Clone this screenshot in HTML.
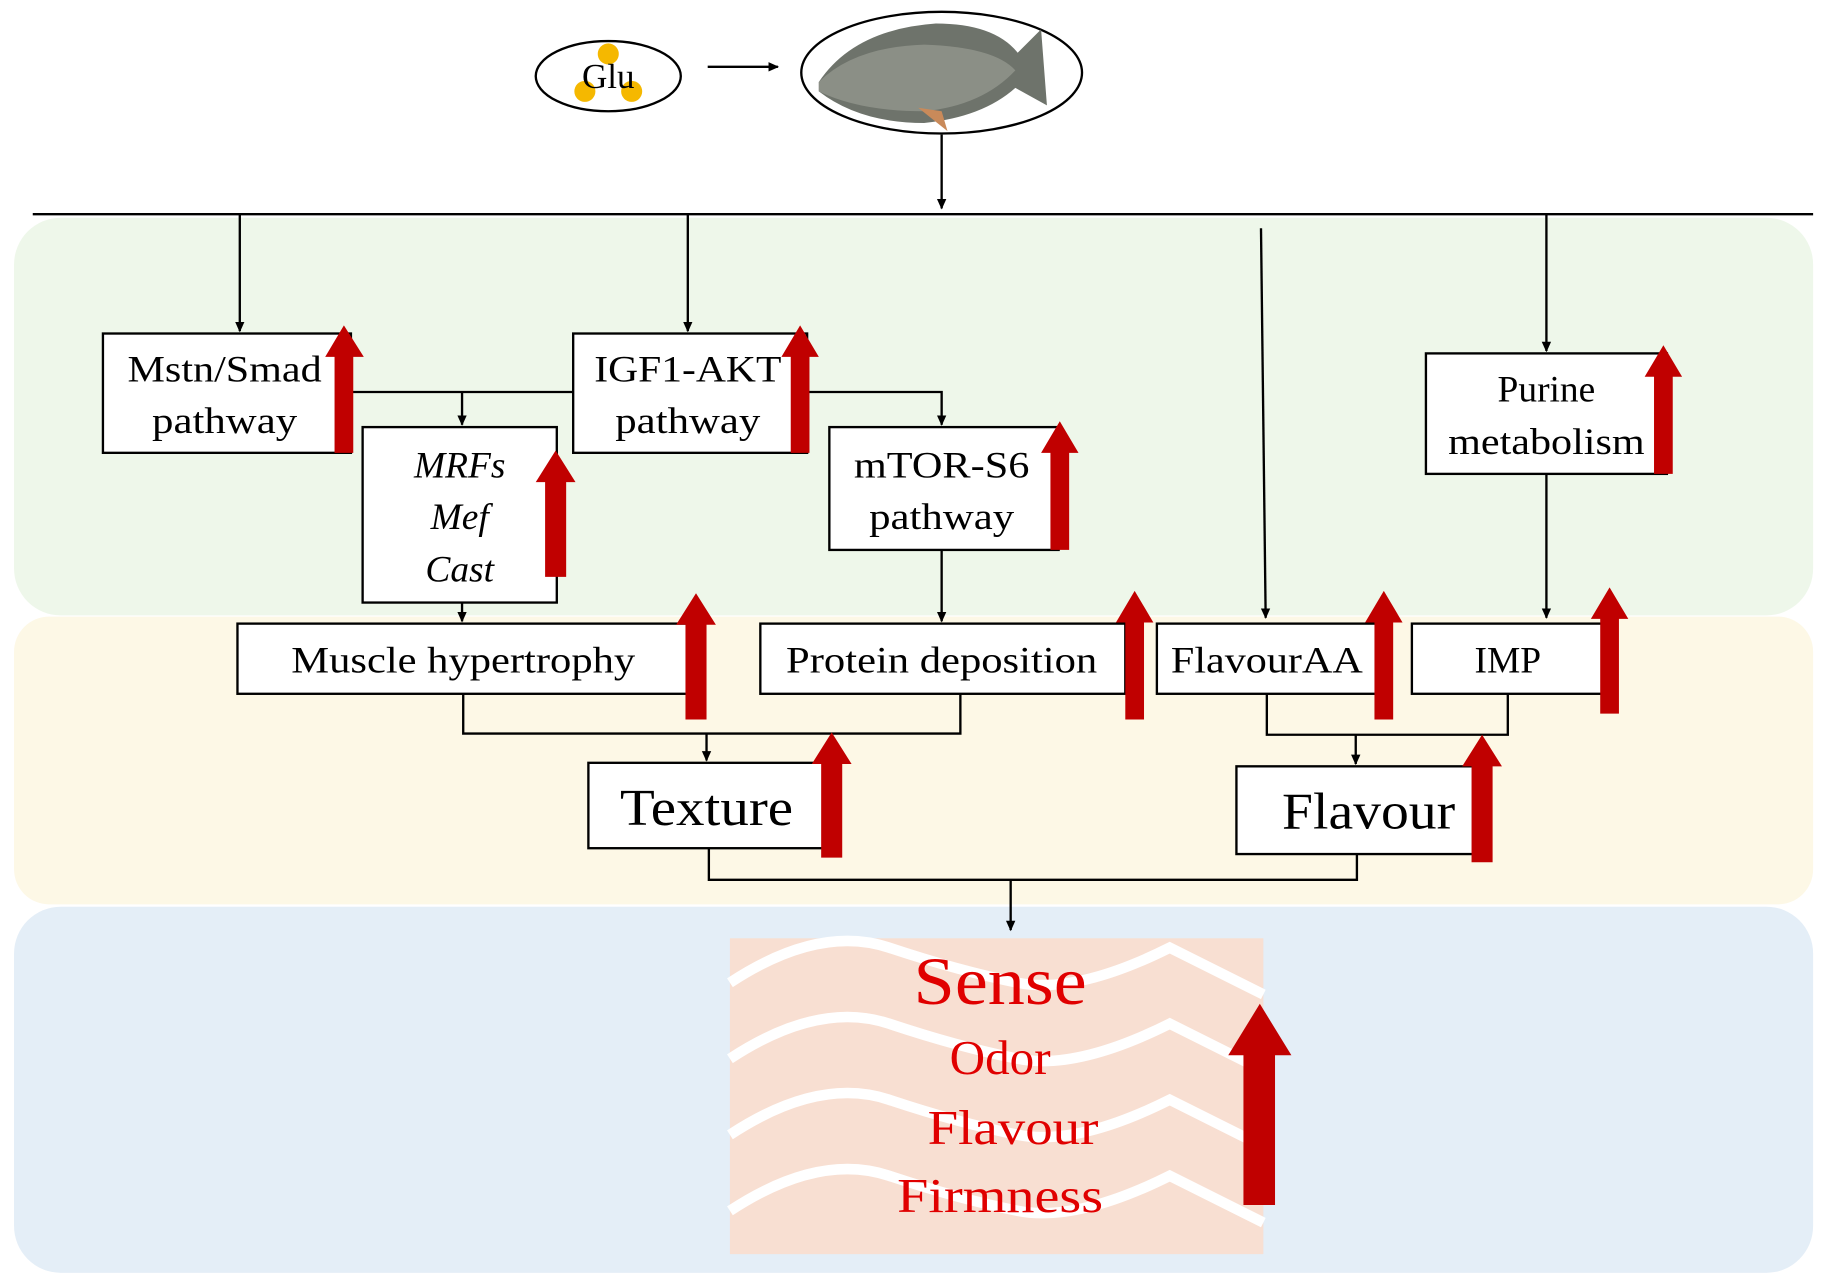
<!DOCTYPE html>
<html><head><meta charset="utf-8"><style>html,body{margin:0;padding:0;background:#fff}svg{display:block}</style></head><body>
<svg width="1833" height="1287" viewBox="0 0 1567 1100" xmlns="http://www.w3.org/2000/svg" font-family="Liberation Serif, serif">
<defs>
<marker id="a" markerWidth="10" markerHeight="10" refX="8" refY="5" orient="auto" markerUnits="userSpaceOnUse"><path d="M0,1 L9,5 L0,9 z" fill="#000"/></marker>
</defs>
<rect x="12" y="186" width="1538" height="340" rx="40" fill="#eef7ea"/>
<rect x="12" y="527" width="1538" height="246" rx="30" fill="#fdf8e6"/>
<rect x="12" y="775" width="1538" height="313" rx="40" fill="#e4eef7"/>
<ellipse cx="520" cy="65" rx="62" ry="30" fill="#fff" stroke="#000" stroke-width="2"/>
<circle cx="520" cy="46" r="9" fill="#f5b800"/><circle cx="500" cy="78" r="9" fill="#f5b800"/><circle cx="540" cy="78" r="9" fill="#f5b800"/>
<text x="520" y="75" font-size="30" text-anchor="middle">Glu</text>
<line x1="605" y1="57" x2="665" y2="57" stroke="#000" stroke-width="2" marker-end="url(#a)"/>
<ellipse cx="805" cy="62" rx="120" ry="52" fill="#fff" stroke="#000" stroke-width="2"/>
<path d="M700,70 Q730,25 800,20 Q850,20 870,45 L890,25 L895,90 L868,75 Q840,100 790,105 Q735,105 700,78 z" fill="#6e736b"/>
<path d="M700,70 Q730,40 790,38 Q850,40 868,60 Q840,90 790,95 Q735,95 700,78 z" fill="#8b8f86"/>
<path d="M785,92 L810,112 L805,95 z" fill="#c98a5a"/>
<line x1="805" y1="115" x2="805" y2="178" stroke="#000" stroke-width="2" marker-end="url(#a)"/>
<line x1="28" y1="183" x2="1550" y2="183" stroke="#000" stroke-width="2"/>
<g stroke="#000" stroke-width="2" fill="none">
<line x1="205" y1="183" x2="205" y2="283" marker-end="url(#a)"/>
<line x1="588" y1="183" x2="588" y2="283" marker-end="url(#a)"/>
<line x1="1322" y1="183" x2="1322" y2="300" marker-end="url(#a)"/>
<line x1="1078" y1="195" x2="1082" y2="528" marker-end="url(#a)"/>
<polyline points="300,335 490,335"/>
<line x1="395" y1="335" x2="395" y2="363" marker-end="url(#a)"/>
<polyline points="690,335 805,335 805,363" marker-end="url(#a)"/>
<line x1="805" y1="470" x2="805" y2="531" marker-end="url(#a)"/>
<line x1="395" y1="515" x2="395" y2="531" marker-end="url(#a)"/>
<line x1="1322" y1="405" x2="1322" y2="528" marker-end="url(#a)"/>
<polyline points="396,593 396,627 821,627 821,593"/>
<line x1="604" y1="627" x2="604" y2="650" marker-end="url(#a)"/>
<polyline points="1083,593 1083,628 1289,628 1289,593"/>
<line x1="1159" y1="628" x2="1159" y2="653" marker-end="url(#a)"/>
<polyline points="606,725 606,752 1160,752 1160,730"/>
<line x1="864" y1="752" x2="864" y2="795" marker-end="url(#a)"/>
</g>
<g fill="#fff" stroke="#000" stroke-width="2">
<rect x="88" y="285" width="212" height="102"/>
<rect x="490" y="285" width="200" height="102"/>
<rect x="310" y="365" width="166" height="150"/>
<rect x="709" y="365" width="196" height="105"/>
<rect x="1219" y="302" width="206" height="103"/>
<rect x="203" y="533" width="387" height="60"/>
<rect x="650" y="533" width="312" height="60"/>
<rect x="989" y="533" width="189" height="60"/>
<rect x="1207" y="533" width="163" height="60"/>
<rect x="503" y="652" width="202" height="73"/>
<rect x="1057" y="655" width="205" height="75"/>
</g>
<g font-size="32" text-anchor="middle" fill="#000">
<text x="192" y="326" textLength="166" lengthAdjust="spacingAndGlyphs">Mstn/Smad</text><text x="192" y="370" textLength="124" lengthAdjust="spacingAndGlyphs">pathway</text>
<text x="588" y="326" textLength="160" lengthAdjust="spacingAndGlyphs">IGF1-AKT</text><text x="588" y="370" textLength="124" lengthAdjust="spacingAndGlyphs">pathway</text>
<g font-style="italic"><text x="393" y="408">MRFs</text><text x="393" y="452">Mef</text><text x="393" y="497">Cast</text></g>
<text x="805" y="408" textLength="150" lengthAdjust="spacingAndGlyphs">mTOR-S6</text><text x="805" y="452" textLength="124" lengthAdjust="spacingAndGlyphs">pathway</text>
<text x="1322" y="343">Purine</text><text x="1322" y="388" textLength="168" lengthAdjust="spacingAndGlyphs">metabolism</text>
<text x="396" y="575" textLength="294" lengthAdjust="spacingAndGlyphs">Muscle hypertrophy</text>
<text x="805" y="575" textLength="266" lengthAdjust="spacingAndGlyphs">Protein deposition</text>
<text x="1083" y="575" textLength="164" lengthAdjust="spacingAndGlyphs">FlavourAA</text>
<text x="1289" y="575">IMP</text>
<text x="604" y="705" font-size="44" textLength="148" lengthAdjust="spacingAndGlyphs">Texture</text>
<text x="1170" y="708" font-size="44" textLength="148" lengthAdjust="spacingAndGlyphs">Flavour</text>
</g>
<rect x="624" y="802" width="456" height="270" fill="#f8dfd2"/>
<g stroke="#fff" stroke-width="9" fill="none">
<path d="M624,840 Q700,790 760,810 T870,840 T1000,810 L1080,850"/>
<path d="M624,905 Q700,855 760,875 T870,905 T1000,875 L1080,915"/>
<path d="M624,970 Q700,920 760,940 T870,970 T1000,940 L1080,980"/>
<path d="M624,1035 Q700,985 760,1005 T870,1035 T1000,1005 L1080,1045"/>
</g>
<g fill="#e00000" text-anchor="middle">
<text x="855" y="858" font-size="58" textLength="148" lengthAdjust="spacingAndGlyphs">Sense</text>
<text x="855" y="918" font-size="42">Odor</text>
<text x="866" y="978" font-size="42" textLength="146" lengthAdjust="spacingAndGlyphs">Flavour</text>
<text x="855" y="1036" font-size="42" textLength="176" lengthAdjust="spacingAndGlyphs">Firmness</text>
</g>
<g fill="#c00000">
<path d="M286,387 V305 H278 L294,278 L311,305 H302 V387 z"/>
<path d="M676,387 V305 H668 L684,278 L700,305 H692 V387 z"/>
<path d="M466,493 V412 H458 L475,385 L492,412 H484 V493 z"/>
<path d="M898,470 V387 H890 L906,360 L922,387 H914 V470 z"/>
<path d="M1414,405 V322 H1406 L1422,295 L1438,322 H1430 V405 z"/>
<path d="M586,615 V534 H578 L595,507 L612,534 H604 V615 z"/>
<path d="M962,615 V532 H954 L970,505 L986,532 H978 V615 z"/>
<path d="M1175,615 V532 H1167 L1183,505 L1199,532 H1191 V615 z"/>
<path d="M1368,610 V529 H1360 L1376,502 L1392,529 H1384 V610 z"/>
<path d="M702,733 V653 H694 L711,626 L728,653 H720 V733 z"/>
<path d="M1258,737 V655 H1250 L1267,628 L1284,655 H1276 V737 z"/>
<path d="M1063,1030 V902 H1050 L1077,858 L1104,902 H1090 V1030 z"/>
</g>
</svg>
</body></html>
